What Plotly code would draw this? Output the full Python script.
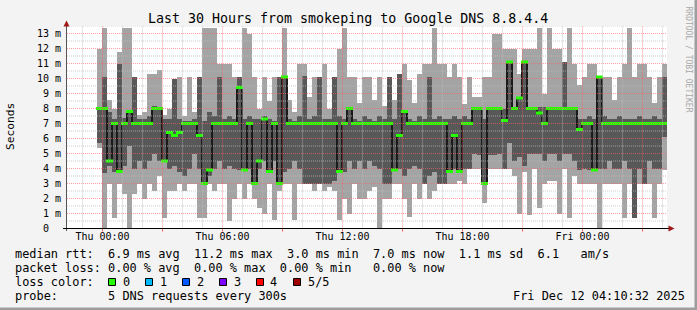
import plotly.graph_objects as go
import pandas as pd

# ---------------- data (ms), one value per 15-minute slot ----------------
slot_first = "2025-12-10 23:51:00"
slot_step = "15min"

rtt_max = [12.0, 13.4, 8.6, 8.0, 11.8, 13.4, 13.4, 10.1, 7.6, 7.8,
           10.3, 10.3, 10.6, 7.6, 8.0, 10.0, 10.1, 7.5, 10.1, 7.8,
           10.1, 13.4, 13.4, 13.4, 11.0, 11.0, 11.0, 10.1, 10.1, 13.4,
           13.0, 10.1, 8.0, 10.1, 8.5, 10.1, 10.1, 13.4, 8.6, 7.8,
           11.0, 11.0, 8.8, 10.1, 10.1, 11.0, 8.0, 10.1, 12.0, 13.4,
           10.1, 10.1, 8.4, 10.1, 10.1, 8.6, 10.1, 8.2, 10.1, 8.6,
           10.3, 11.0, 9.9, 8.4, 10.3, 11.0, 11.0, 13.4, 11.0, 11.0,
           10.1, 11.0, 10.1, 8.3, 10.1, 8.8, 8.8, 10.1, 10.1, 13.0,
           13.0, 12.0, 12.0, 12.0, 10.3, 12.0, 12.0, 12.0, 13.4, 9.0,
           13.4, 12.0, 12.0, 11.1, 13.4, 11.0, 9.6, 10.1, 11.0, 11.0,
           10.1, 10.1, 10.1, 8.6, 10.1, 11.0, 13.4, 10.1, 11.0, 11.0,
           10.1, 8.4, 10.1, 11.0]
rtt_p4 = [8.1, 10.1, 7.8, 7.3, 11.0, 7.4, 7.8, 10.1, 7.3, 7.3,
          7.5, 8.2, 8.0, 7.3, 7.3, 10.0, 7.3, 7.2, 7.2, 7.3,
          10.1, 7.2, 7.8, 7.5, 10.1, 7.3, 7.5, 7.3, 10.1, 7.3,
          7.5, 7.3, 7.3, 7.5, 7.3, 7.2, 10.1, 10.1, 7.3, 7.2,
          7.5, 10.2, 7.3, 7.5, 10.1, 7.3, 7.3, 10.1, 7.5, 7.3,
          8.0, 7.3, 7.2, 7.5, 7.3, 7.2, 7.5, 7.3, 10.1, 7.3,
          10.3, 7.8, 7.3, 7.2, 7.5, 7.3, 10.1, 7.3, 7.5, 7.3,
          7.3, 7.5, 7.3, 7.5, 7.3, 8.1, 8.1, 7.3, 8.1, 8.1,
          8.1, 8.0, 11.1, 8.1, 8.7, 11.1, 8.1, 8.1, 8.1, 8.1,
          8.1, 8.1, 8.1, 11.1, 8.1, 8.1, 7.3, 7.3, 7.5, 7.3,
          10.1, 7.5, 7.3, 7.3, 7.5, 7.3, 7.3, 7.3, 7.5, 7.3,
          7.3, 7.5, 7.3, 10.1]
rtt_p2 = [5.7, 3.7, 4.2, 3.8, 3.8, 4.2, 5.5, 4.0, 4.5, 4.0,
          4.5, 5.0, 4.5, 4.5, 4.0, 4.2, 3.8, 3.5, 4.0, 5.0,
          4.0, 3.0, 3.5, 4.0, 4.5, 4.0, 4.2, 4.0, 3.9, 3.9,
          4.0, 3.0, 4.0, 4.5, 3.8, 4.5, 3.0, 3.8, 4.0, 4.5,
          4.0, 3.0, 3.0, 3.0, 3.0, 3.0, 3.0, 3.2, 3.8, 3.8,
          4.5, 4.0, 4.5, 4.0, 4.5, 4.2, 4.0, 3.0, 3.0, 3.9,
          4.0, 3.5, 4.0, 4.2, 4.0, 3.0, 3.5, 3.8, 3.0, 3.0,
          3.8, 4.0, 3.8, 4.0, 4.0, 5.0, 4.9, 3.0, 4.9, 4.9,
          5.0, 4.0, 5.7, 4.5, 4.8, 4.2, 5.0, 5.0, 5.0, 4.5,
          5.0, 5.0, 4.5, 5.0, 5.0, 4.5, 3.9, 4.0, 3.9, 3.9,
          4.0, 4.0, 4.5, 4.0, 4.0, 4.5, 4.0, 0.7, 4.0, 3.0,
          4.5, 4.0, 4.0, 6.1]
rtt_min = [5.4, 0.0, 3.0, 0.7, 3.0, 2.3, 0.0, 2.3, 3.0, 2.0,
           3.0, 2.5, 3.5, 0.7, 2.5, 2.5, 3.0, 2.5, 3.0, 3.0,
           0.7, 0.7, 3.0, 2.5, 3.0, 3.0, 0.5, 2.0, 3.0, 2.0,
           3.0, 2.0, 1.4, 1.0, 3.0, 0.6, 2.5, 3.0, 3.0, 0.6,
           3.0, 3.0, 3.0, 2.5, 3.0, 2.5, 2.8, 2.5, 0.6, 2.0,
           1.0, 3.0, 2.0, 2.0, 2.5, 2.8, 0.0, 2.0, 2.0, 3.0,
           3.0, 2.0, 0.8, 3.0, 2.0, 3.0, 2.0, 2.5, 3.0, 3.0,
           3.0, 3.0, 3.2, 3.0, 4.0, 4.0, 4.0, 1.7, 4.0, 4.0,
           4.0, 4.0, 4.0, 3.5, 1.0, 3.8, 0.9, 4.0, 1.4, 3.0,
           3.2, 3.2, 1.0, 4.0, 0.7, 3.5, 3.0, 3.0, 3.0, 3.0,
           0.0, 3.0, 3.0, 3.0, 3.0, 0.7, 3.0, 0.7, 3.0, 3.0,
           3.0, 0.7, 3.0, 3.9]
rtt_median = [8.0, 8.0, 4.5, 7.0, 3.8, 7.0, 7.8, 7.0, 7.0, 7.0,
              7.0, 8.0, 8.0, 4.5, 6.4, 6.2, 6.4, 7.0, 7.0, 7.0,
              6.2, 3.0, 3.9, 7.0, 7.0, 7.0, 7.0, 7.0, 9.4, 3.9,
              7.0, 3.0, 4.5, 7.3, 3.8, 7.0, 3.0, 10.1, 7.0, 7.0,
              7.0, 7.0, 7.0, 7.0, 7.0, 7.0, 7.0, 7.0, 3.8, 7.0,
              8.0, 7.0, 7.0, 7.0, 7.0, 7.0, 7.0, 7.0, 7.0, 3.9,
              6.2, 7.8, 7.0, 7.0, 7.0, 7.0, 7.0, 7.0, 7.0, 7.0,
              3.8, 6.2, 3.8, 7.0, 7.0, 8.0, 8.0, 3.0, 8.0, 8.0,
              8.0, 7.2, 11.1, 8.0, 8.7, 11.1, 8.0, 8.0, 7.7, 7.0,
              8.0, 8.0, 8.0, 8.0, 8.0, 8.0, 6.6, 7.0, 7.0, 3.9,
              10.1, 7.0, 7.0, 7.0, 7.0, 7.0, 7.0, 7.0, 7.0, 7.0,
              7.0, 7.0, 7.0, 7.0]

x_start = "2025-12-10 22:13:30"
x_end = "2025-12-12 04:13:30"
x_tick_vals = ["2025-12-11 00:00", "2025-12-11 06:00", "2025-12-11 12:00",
               "2025-12-11 18:00", "2025-12-12 00:00"]
x_tick_text = ["Thu 00:00", "Thu 06:00", "Thu 12:00", "Thu 18:00", "Fri 00:00"]
y_tick_vals = list(range(14))
y_tick_text = ["0"] + [f"{v} m" for v in range(1, 14)]

title_text = "Last 30 Hours from smokeping to Google DNS 8.8.4.4"
legend_row1 = "median rtt:  6.9 ms avg  11.2 ms max  3.0 ms min  7.0 ms now  1.1 ms sd  6.1   am/s"
legend_row2 = "packet loss: 0.00 % avg  0.00 % max  0.00 % min   0.00 % now"
legend_row3 = "loss color:"
legend_row4 = "probe:       5 DNS requests every 300s"
stamp_text = "Fri Dec 12 04:10:32 2025"
loss_labels = ["0", "1", "2", "3", "4", "5/5"]
loss_colors = ["#26ff00", "#00b8ff", "#0059ff", "#7e00ff", "#ff0000", "#a10000"]

# ---------------- figure ----------------
MONO = "DejaVu Sans Mono"
W, H = 697, 310
ML, MR, MT, MB = 67, 30, 26, 81
PW, PH = W - ML - MR, H - MT - MB


def pxx(px):
    return (px - ML) / PW


def pxy(py):
    return (H - MB - py) / PH


times = pd.date_range(slot_first, periods=len(rtt_median), freq=slot_step)
slot_ms = pd.Timedelta(slot_step).total_seconds() * 1000

fig = go.Figure()
fig.add_bar(x=times, base=rtt_min, y=[a - b for a, b in zip(rtt_max, rtt_min)],
            width=slot_ms, marker=dict(color="#a4a4a4", line=dict(width=0)))
fig.add_bar(x=times, base=rtt_p2, y=[a - b for a, b in zip(rtt_p4, rtt_p2)],
            width=slot_ms, marker=dict(color="#585858", line=dict(width=0)))
fig.add_scatter(x=times, y=rtt_median, mode="lines",
                line=dict(shape="hvh", color="#1a1a1a", width=2))
fig.add_scatter(x=times, y=rtt_median, mode="markers",
                marker=dict(symbol="line-ew", size=5,
                            line=dict(width=3, color=loss_colors[0])))

shapes = []
# grid (drawn above the smoke like rrdtool)
for h in pd.date_range("2025-12-10 23:00", "2025-12-12 04:00", freq="h"):
    major = h.hour % 3 == 0
    shapes.append(dict(type="line", xref="x", yref="y", x0=h, x1=h, y0=0, y1=13.5,
                       layer="above",
                       line=dict(color="rgba(255,95,95,0.6)" if major else "rgba(185,185,185,0.75)",
                                 width=1, dash="1px,1px")))
    if major:
        shapes.append(dict(type="line", xref="x", yref="paper", x0=h, x1=h,
                           y0=pxy(228.5), y1=pxy(231.5), layer="above",
                           line=dict(color="#ff5f5f", width=1)))
for k in range(1, 28):
    v = k * 0.5
    major = k % 2 == 0
    shapes.append(dict(type="line", xref="paper", yref="y", x0=0, x1=1, y0=v, y1=v,
                       layer="above",
                       line=dict(color="rgba(255,95,95,0.6)" if major else "rgba(185,185,185,0.75)",
                                 width=1, dash="1px,1px")))
# axes
shapes.append(dict(type="line", xref="paper", yref="paper", x0=pxx(66.5), x1=pxx(66.5),
                   y0=pxy(231), y1=pxy(26), layer="above", line=dict(color="#555555", width=1)))
shapes.append(dict(type="line", xref="paper", yref="paper", x0=pxx(63), x1=pxx(669),
                   y0=pxy(228.5), y1=pxy(228.5), layer="above", line=dict(color="#000000", width=1)))
arrow_col = "#a01818"
shapes.append(dict(type="path", xref="paper", yref="paper", layer="above",
                   path=f"M {pxx(66.5)},{pxy(20.5)} L {pxx(63.5)},{pxy(26.5)} L {pxx(69.5)},{pxy(26.5)} Z",
                   fillcolor=arrow_col, line=dict(width=0)))
shapes.append(dict(type="path", xref="paper", yref="paper", layer="above",
                   path=f"M {pxx(674.5)},{pxy(228.5)} L {pxx(668.5)},{pxy(225.5)} L {pxx(668.5)},{pxy(231.5)} Z",
                   fillcolor=arrow_col, line=dict(width=0)))
# frame
shapes.append(dict(type="rect", xref="paper", yref="paper", x0=pxx(0), x1=pxx(W), y0=pxy(H), y1=pxy(H - 2.5),
                   fillcolor="#9e9e9e", line=dict(width=0), layer="above"))
shapes.append(dict(type="rect", xref="paper", yref="paper", x0=pxx(W - 2.5), x1=pxx(W), y0=pxy(H), y1=pxy(0),
                   fillcolor="#9e9e9e", line=dict(width=0), layer="above"))
# loss colour boxes
box_left = [108, 145, 182, 219, 256, 293]
for bx, col in zip(box_left, loss_colors):
    shapes.append(dict(type="rect", xref="paper", yref="paper",
                       x0=pxx(bx + 0.5), x1=pxx(bx + 7.5), y0=pxy(285.5), y1=pxy(278.5),
                       fillcolor=col, line=dict(color="#000000", width=1), layer="above"))


def ann(text, px, py, size, xanchor="left", color="#000000", angle=0):
    return dict(text=text.replace(" ", "\u00a0"), x=pxx(px), y=pxy(py), xref="paper", yref="paper",
                xanchor=xanchor, yanchor="middle", showarrow=False, borderpad=0, borderwidth=0,
                textangle=angle, font=dict(family=MONO, size=size, color=color))


annotations = [
    ann(title_text, 347.5, 19, 13.3, xanchor="center"),
    ann("Seconds", 10.5, 126.5, 11.2, xanchor="center", angle=-90),
    ann("RRDTOOL / TOBI OETIKER", 688.5, 59, 8, xanchor="center", color="#a8a8a8", angle=90),
    ann(legend_row1, 15, 254, 11.9),
    ann(legend_row2, 15, 268, 11.9),
    ann(legend_row3, 15, 282, 11.9),
    ann(legend_row4, 15, 296, 11.9),
    ann(stamp_text, 512.5, 296, 11.9),
]
label_left = [122.5, 160, 197, 233.5, 270, 307.5]
for lx, lab in zip(label_left, loss_labels):
    annotations.append(ann(lab, lx, 282, 11.9))
# y-axis labels (rrdtool pads "0" as if it had a unit)
for v, t in zip(y_tick_vals, y_tick_text):
    if v == 0:
        annotations.append(dict(text=t, x=pxx(42.5), y=v, xref="paper", yref="y",
                                xanchor="left", yanchor="middle", showarrow=False,
                                borderpad=0, borderwidth=0,
                                font=dict(family=MONO, size=10, color="#000000")))
    else:
        annotations.append(dict(text=t.replace(" ", "\u00a0"), x=pxx(61), y=v, xref="paper", yref="y",
                                xanchor="right", yanchor="middle", showarrow=False,
                                borderpad=0, borderwidth=0,
                                font=dict(family=MONO, size=10, color="#000000")))

fig.update_layout(
    width=W, height=H, margin=dict(l=ML, r=MR, t=MT, b=MB, pad=0),
    paper_bgcolor="#f3f3f3", plot_bgcolor="#ffffff",
    showlegend=False, barmode="overlay", bargap=0,
    font=dict(family=MONO, size=10, color="#000000"),
    shapes=shapes, annotations=annotations,
    xaxis=dict(type="date", range=[x_start, x_end], showgrid=False, zeroline=False,
               showline=False, ticks="", tickvals=x_tick_vals, ticktext=x_tick_text,
               tickfont=dict(family=MONO, size=10, color="#000000")),
    yaxis=dict(range=[-1 / 30, 13.5], showgrid=False, zeroline=False, showline=False,
               showticklabels=False, ticks=""),
)

fig.write_html("out.html")
